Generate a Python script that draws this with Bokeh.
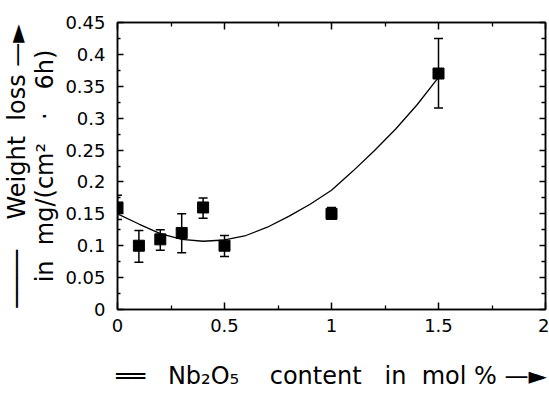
from bokeh.plotting import figure
from bokeh.models import (FixedTicker, LinearAxis, Whisker, TeeHead, ColumnDataSource, Range1d)
from bokeh.embed import file_html
from bokeh.resources import INLINE

# ---- data ----
x_content = [0.0, 0.1, 0.2, 0.3, 0.4, 0.5, 1.0, 1.5]
weight_loss = [0.160, 0.100, 0.110, 0.120, 0.160, 0.100, 0.150, 0.370]
err_lower = [0.141, 0.074, 0.093, 0.089, 0.143, 0.083, 0.142, 0.316]
err_upper = [0.179, 0.124, 0.125, 0.150, 0.175, 0.116, 0.160, 0.425]

fit_x = [0.0, 0.1, 0.2, 0.3, 0.4, 0.5, 0.6, 0.7, 0.8, 0.9, 1.0, 1.1, 1.2, 1.3, 1.4, 1.5]
fit_y = [0.150, 0.134, 0.119, 0.110, 0.107, 0.109, 0.116, 0.129, 0.146, 0.165,
         0.187, 0.217, 0.249, 0.283, 0.321, 0.364]

x_ticks = [0.0, 0.5, 1.0, 1.5, 2.0]
x_tick_labels = ["0", "0.5", "1", "1.5", "2"]
x_minor_ticks = [0.25, 0.75, 1.25, 1.75]
y_ticks = [0.0, 0.05, 0.1, 0.15, 0.2, 0.25, 0.3, 0.35, 0.4, 0.45]
y_tick_labels = ["0", "0.05", "0.1", "0.15", "0.2", "0.25", "0.3", "0.35", "0.4", "0.45"]
y_minor_ticks = [0.025, 0.075, 0.125, 0.175, 0.225, 0.275, 0.325, 0.375, 0.425]

NB = "\u00a0"
x_title = ("══" + NB * 3 + "Nb₂O₅" + NB * 4 + "content" + NB * 3 + "in" + NB * 2
           + "mol" + NB * 1 + "%" + NB * 1 + "—►")
y_title = ("────" + NB * 4 + "Weight" + NB * 2 + "loss" + NB * 1 + "—►" + "\n"
           + "in" + NB * 2 + "mg/(cm²" + NB * 3 + "·" + NB * 3 + "6h)")

FONT = "DejaVu Sans"
W, H = 549, 395

p = figure(width=W, height=H, x_range=Range1d(0, 2), y_range=Range1d(0, 0.45),
           output_backend="svg", toolbar_location=None,
           min_border_left=116, min_border_right=4, min_border_top=22, min_border_bottom=86)
p.grid.visible = False
p.outline_line_color = "black"
p.outline_line_width = 1.5
p.background_fill_color = "white"
p.border_fill_color = "white"


def style(ax, labels, major_in, minor_in, standoff):
    ax.axis_line_color = "black"
    ax.axis_line_width = 1.5
    ax.major_tick_line_color = "black"
    ax.major_tick_line_width = 1.5
    ax.major_tick_in = major_in
    ax.major_tick_out = 0
    ax.minor_tick_line_color = "black"
    ax.minor_tick_line_width = 1.3
    ax.minor_tick_in = minor_in
    ax.minor_tick_out = 0
    ax.major_label_text_font = FONT
    ax.major_label_text_color = "black"
    ax.major_label_text_font_size = "18px"
    ax.major_label_standoff = standoff if labels else 0
    ax.axis_label_text_font = FONT
    ax.axis_label_text_font_style = "normal"
    ax.axis_label_text_color = "black"
    ax.axis_label_text_font_size = "24px"


xa = p.xaxis[0]
xa.ticker = FixedTicker(ticks=x_ticks, minor_ticks=x_minor_ticks)
xa.major_label_overrides = dict(zip(x_ticks, x_tick_labels))
style(xa, True, 7, 4, 9)
xa.axis_label = x_title
xa.axis_label_standoff = 27

ya = p.yaxis[0]
ya.ticker = FixedTicker(ticks=y_ticks, minor_ticks=y_minor_ticks)
ya.major_label_overrides = dict(zip(y_ticks, y_tick_labels))
style(ya, True, 6, 3, 12)
ya.axis_label = y_title
ya.axis_label_standoff = 3
ya.axis_label_text_line_height = 1.0

top = LinearAxis(ticker=FixedTicker(ticks=x_ticks, minor_ticks=x_minor_ticks))
top.major_label_overrides = {t: "" for t in x_ticks}
style(top, False, 7, 4, 0)
p.add_layout(top, "above")
right = LinearAxis(ticker=FixedTicker(ticks=y_ticks, minor_ticks=y_minor_ticks))
right.major_label_overrides = {t: "" for t in y_ticks}
style(right, False, 6, 4, 0)
p.add_layout(right, "right")

# fitted curve
p.line(fit_x, fit_y, line_color="black", line_width=1.3)

# error bars
src = ColumnDataSource(dict(x=x_content, lower=err_lower, upper=err_upper))
wh = Whisker(base="x", lower="lower", upper="upper", source=src, dimension="height",
             line_color="black", line_width=1.5,
             upper_head=TeeHead(size=9, line_color="black", line_width=1.5),
             lower_head=TeeHead(size=9, line_color="black", line_width=1.5))
p.add_layout(wh)

# points
p.scatter(x_content, weight_loss, marker="square", size=11, color="black")

open("out.html", "w").write(file_html(p, INLINE))
